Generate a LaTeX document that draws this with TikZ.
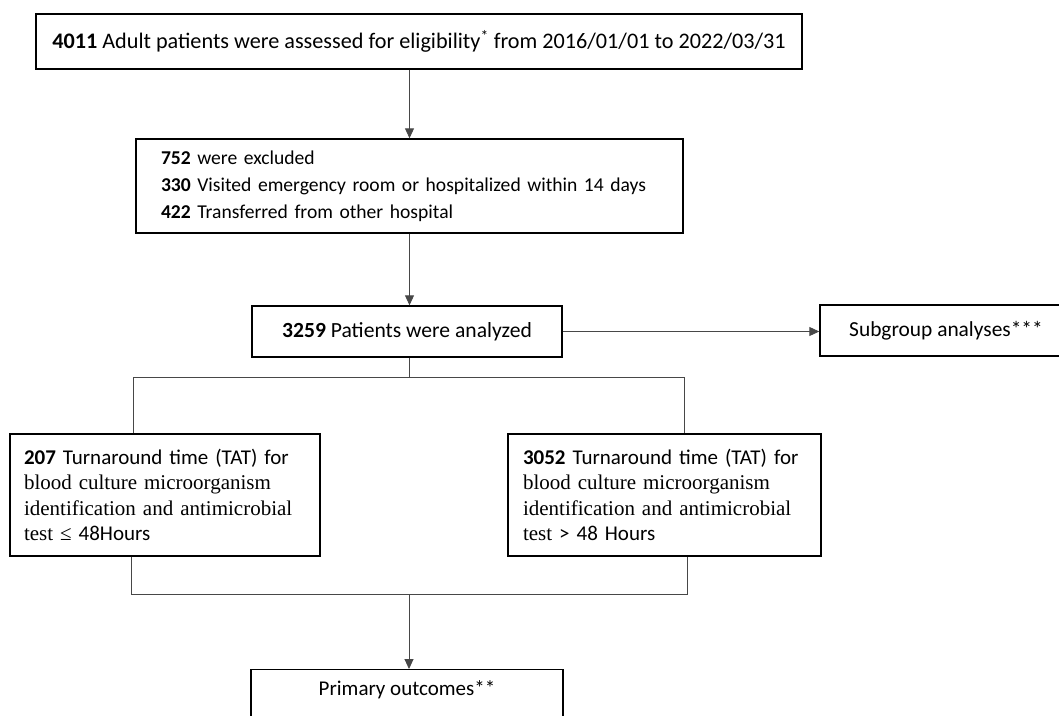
\documentclass[tikz,border=0pt]{standalone}
\usepackage{fontspec}
\setmainfont{Carlito}
\newfontfamily\tnr{Liberation Serif}
\usetikzlibrary{arrows.meta,calc}
\begin{document}
\begin{tikzpicture}[x=1pt,y=-1pt,
  box/.style={draw=black,line width=1.4pt,inner sep=0pt,font=\fontsize{21}{27}\selectfont},
  tbox/.style={box,align=left,font=\fontsize{21}{25.3}\selectfont},
  conn/.style={draw=black!72,line width=0.9pt},
  arr/.style={conn,-{Triangle[length=10pt,width=9pt]}}]
\clip (0,0) rectangle (1059,715);
\fill[white] (0,0) rectangle (1059,715);

\node[box,minimum width=766pt,minimum height=55pt,font=\fontsize{22.2}{27}\selectfont] (b1) at (419,41.5)
  {\textbf{4011} Adult patients were assessed for eligibility\textsuperscript{*} from 2016/01/01 to 2022/03/31};
\node[box,align=left,minimum width=547pt,minimum height=94pt,text width=497pt,inner xsep=25pt,font=\fontsize{19.6}{27}\selectfont] (b2) at (409.5,186)
  {\textbf{752} were excluded\\ \textbf{330} Visited emergency room or hospitalized within 14 days\\ \textbf{422} Transferred from other hospital};
\node[box,minimum width=310pt,minimum height=51pt,font=\fontsize{21.6}{27}\selectfont] (b3) at (407,331.5)
  {\raisebox{1.5pt}{\textbf{3259} Patients were analyzed}};
\node[box,minimum width=252pt,minimum height=51pt,font=\fontsize{21.4}{27}\selectfont] (b4) at (946,330.5)
  {\raisebox{3pt}{Subgroup analyses***}};
\node[tbox,minimum width=310pt,minimum height=122pt,text width=282pt,inner xsep=14pt] (b5l) at (165,495)
  {\textbf{207} Turnaround time (TAT) for\\ {\tnr blood culture microorganism}\\ {\tnr identification and antimicrobial}\\ {\tnr test ≤} 48Hours};
\node[tbox,minimum width=313pt,minimum height=122pt,text width=283pt,inner xsep=15pt] (b5r) at (664.5,495)
  {\textbf{3052} Turnaround time (TAT) for\\ {\tnr blood culture microorganism}\\ {\tnr identification and antimicrobial}\\ {\tnr test} > 48 Hours};
\node[box,anchor=north,minimum width=312pt,minimum height=90pt] (b6) at (407,669) {};
\node[font=\fontsize{21}{27}\selectfont] (b6t) at (407,690) {Primary outcomes**};

% connectors
\draw[arr] (b2.north |- b1.south) -- (b2.north);
\draw[arr] (b2.south) -- (b2.south |- b3.north);
\draw[arr] (b3.east) -- (b3.east -| b4.west);

\coordinate (split) at (409,377);
\coordinate (sl) at (133,377);
\coordinate (sr) at (684,377);
\draw[conn] (split |- b3.south) -- (split);
\draw[conn] (b5l.north -| sl) -- (sl) -- (sr) -- (b5r.north -| sr);

\coordinate (merge) at (409,594);
\coordinate (ml) at (131,594);
\coordinate (mr) at (687,594);
\draw[conn] (b5l.south -| ml) -- (ml) -- (mr) -- (b5r.south -| mr);
\draw[arr] (merge) -- (merge |- b6.north);
\end{tikzpicture}
\end{document}
